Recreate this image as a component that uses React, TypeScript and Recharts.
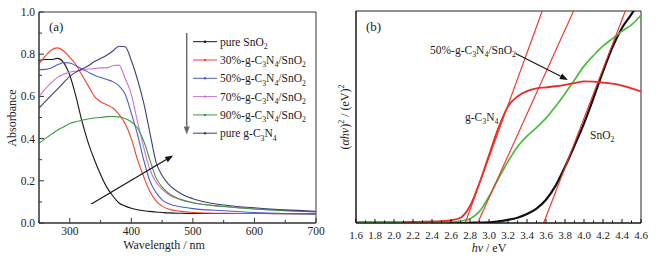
import React from "react";
import { LineChart, Line, XAxis, YAxis, ReferenceLine, ReferenceArea } from "recharts";

const SERIF = "'Liberation Serif', 'Times New Roman', serif";
const AXIS = "#333";
const INK = "#222";

// ---- panel (a): UV-vis absorbance ----
const wavelengths = [250, 260, 270, 280, 290, 300, 310, 320, 330, 340, 350, 360, 370, 380, 390, 400, 410, 420, 430, 440, 450, 460, 480, 500, 550, 600, 650, 700];
const pureSnO2 = [0.77, 0.775, 0.775, 0.78, 0.76, 0.7, 0.6, 0.48, 0.38, 0.3, 0.23, 0.17, 0.128, 0.095, 0.08, 0.07, 0.063, 0.058, 0.055, 0.052, 0.05, 0.048, 0.046, 0.045, 0.045, 0.045, 0.044, 0.044];
const cn30 = [0.755, 0.79, 0.82, 0.83, 0.815, 0.785, 0.75, 0.7, 0.65, 0.6, 0.575, 0.56, 0.545, 0.515, 0.47, 0.4, 0.3, 0.22, 0.15, 0.105, 0.08, 0.066, 0.055, 0.05, 0.046, 0.045, 0.044, 0.044];
const cn50 = [0.727, 0.728, 0.735, 0.75, 0.76, 0.758, 0.745, 0.73, 0.715, 0.7, 0.69, 0.68, 0.67, 0.65, 0.61, 0.52, 0.42, 0.3, 0.2, 0.145, 0.11, 0.092, 0.077, 0.068, 0.058, 0.05, 0.045, 0.042];
const cn70 = [0.6, 0.635, 0.665, 0.69, 0.705, 0.715, 0.72, 0.725, 0.73, 0.732, 0.735, 0.735, 0.745, 0.748, 0.685, 0.61, 0.48, 0.36, 0.255, 0.195, 0.16, 0.135, 0.11, 0.095, 0.078, 0.066, 0.058, 0.052];
const cn90 = [0.378, 0.4, 0.42, 0.44, 0.455, 0.472, 0.48, 0.487, 0.493, 0.498, 0.5, 0.504, 0.505, 0.503, 0.495, 0.48, 0.45, 0.39, 0.3, 0.215, 0.17, 0.142, 0.112, 0.097, 0.078, 0.066, 0.058, 0.053];
const pureCN = [0.545, 0.575, 0.605, 0.635, 0.665, 0.695, 0.715, 0.73, 0.745, 0.765, 0.78, 0.795, 0.815, 0.838, 0.835, 0.77, 0.68, 0.57, 0.43, 0.29, 0.225, 0.185, 0.14, 0.115, 0.085, 0.072, 0.062, 0.056];

const absSeries = [
  { key: "sno2", name: "pure SnO_2", color: "#151515", values: pureSnO2 },
  { key: "c30", name: "30%-g-C_3N_4/SnO_2", color: "#f4432c", values: cn30 },
  { key: "c50", name: "50%-g-C_3N_4/SnO_2", color: "#4a5ec6", values: cn50 },
  { key: "c70", name: "70%-g-C_3N_4/SnO_2", color: "#cc74cc", values: cn70 },
  { key: "c90", name: "90%-g-C_3N_4/SnO_2", color: "#3f9a3f", values: cn90 },
  { key: "cn", name: "pure g-C_3N_4", color: "#3f3d7c", values: pureCN },
];

const wlTicks = [250, 300, 350, 400, 450, 500, 550, 600, 650, 700];
const absTicks = [0, 0.1, 0.2, 0.3, 0.4, 0.5, 0.6, 0.7, 0.8, 0.9, 1.0];
const trendArrow = [{ x: 335, y: 0.09 }, { x: 468, y: 0.32 }];
const orderArrow = [{ x: 490, y: 0.9 }, { x: 490, y: 0.42 }];

// ---- panel (b): Tauc plot ----
const hv = [1.6, 1.7, 1.8, 1.9, 2.0, 2.1, 2.2, 2.3, 2.4, 2.5, 2.6, 2.7, 2.8, 2.9, 3.0, 3.1, 3.2, 3.3, 3.4, 3.5, 3.6, 3.7, 3.8, 3.9, 4.0, 4.1, 4.2, 4.3, 4.4, 4.5, 4.6];
const taucSnO2 = [0, 0, 0, 0, 0, 0, 0, 0, 0, 0, 0, 0, 0.001, 0.002, 0.003, 0.008, 0.015, 0.025, 0.042, 0.068, 0.11, 0.175, 0.265, 0.365, 0.47, 0.59, 0.715, 0.83, 0.92, 0.985, 1.06];
const taucCN50 = [0.005, 0.005, 0.005, 0.005, 0.005, 0.005, 0.005, 0.005, 0.005, 0.005, 0.006, 0.009, 0.02, 0.055, 0.125, 0.21, 0.29, 0.36, 0.41, 0.45, 0.495, 0.55, 0.61, 0.675, 0.74, 0.79, 0.835, 0.87, 0.905, 0.935, 0.98];
const taucCN = [null, null, null, null, null, 0.004, 0.005, 0.006, 0.007, 0.009, 0.013, 0.025, 0.08, 0.19, 0.32, 0.45, 0.55, 0.597, 0.622, 0.635, 0.64, 0.645, 0.652, 0.66, 0.668, 0.667, 0.662, 0.657, 0.648, 0.635, 0.62];

const taucSeries = [
  { key: "sno2", color: "#111111", width: 2.2, values: taucSnO2 },
  { key: "cn50", color: "#4cbb3c", width: 1.7, values: taucCN50 },
  { key: "cn", color: "#ee2a24", width: 1.8, values: taucCN },
];

// linear fits (x-intercept -> top of frame)
const tangents = [
  [{ x: 2.75, y: 0 }, { x: 3.56, y: 1 }],
  [{ x: 2.88, y: 0 }, { x: 3.89, y: 1 }],
  [{ x: 3.575, y: 0 }, { x: 4.435, y: 1 }],
];
const hvTicks = [1.6, 1.7, 1.8, 1.9, 2.0, 2.1, 2.2, 2.3, 2.4, 2.5, 2.6, 2.7, 2.8, 2.9, 3.0, 3.1, 3.2, 3.3, 3.4, 3.5, 3.6, 3.7, 3.8, 3.9, 4.0, 4.1, 4.2, 4.3, 4.4, 4.5, 4.6];
const pointerArrow = [{ x: 3.28, y: 0.8 }, { x: 3.83, y: 0.675 }];

const absRows = wavelengths.map((wl, i) => {
  const row: any = { wl };
  absSeries.forEach((s) => (row[s.key] = s.values[i]));
  return row;
});
const taucRows = hv.map((x, i) => {
  const row: any = { hv: x };
  taucSeries.forEach((s) => (row[s.key] = s.values[i]));
  return row;
});

// "_x" -> subscript, "^x" -> superscript
function rich(s: string, size: number) {
  const parts: React.ReactNode[] = [];
  const re = /([_^])(.)|([^_^]+)/g;
  let m: RegExpExecArray | null;
  let off = 0;
  let k = 0;
  while ((m = re.exec(s))) {
    if (m[3]) {
      parts.push(<tspan key={k++} dy={-off} fontSize={size}>{m[3]}</tspan>);
      off = 0;
    } else {
      const target = m[1] === "_" ? size * 0.3 : -size * 0.4;
      parts.push(<tspan key={k++} dy={target - off} fontSize={size * 0.68}>{m[2]}</tspan>);
      off = target;
    }
  }
  return parts;
}

const TICK_OFF = 8; // tickSize 6 + tickMargin 2

function XTickA({ x, y, payload }: any) {
  const v = payload.value;
  const major = v % 100 === 0;
  const y0 = y - TICK_OFF;
  return (
    <g>
      <line x1={x} x2={x} y1={y0} y2={y0 - (major ? 5 : 3)} stroke={AXIS} />
      {major && (
        <text x={x} y={y0 + 12} textAnchor="middle" fontSize={11.5} fontFamily={SERIF} fill={INK}>
          {v}
        </text>
      )}
    </g>
  );
}

function YTickA({ x, y, payload }: any) {
  const v = payload.value;
  const major = Math.round(v * 10) % 2 === 0;
  const x0 = x + TICK_OFF;
  return (
    <g>
      <line x1={x0} x2={x0 + (major ? 5 : 3)} y1={y} y2={y} stroke={AXIS} />
      {major && (
        <text x={x0 - 4} y={y} dy="0.35em" textAnchor="end" fontSize={11.5} fontFamily={SERIF} fill={INK}>
          {v.toFixed(1)}
        </text>
      )}
    </g>
  );
}

function XTickB({ x, y, payload }: any) {
  const v = payload.value;
  const major = Math.round(v * 10) % 2 === 0;
  const y0 = y - TICK_OFF;
  return (
    <g>
      <line x1={x} x2={x} y1={y0} y2={y0 - (major ? 4 : 2.5)} stroke="#111" />
      {major && (
        <text x={x} y={y0 + 16} textAnchor="middle" fontSize={11} fontFamily={SERIF} fill={INK}>
          {v.toFixed(1)}
        </text>
      )}
    </g>
  );
}

function Arrow({ x1, y1, x2, y2, color, w = 1.2 }: any) {
  const a = Math.atan2(y2 - y1, x2 - x1);
  const L = 8;
  const W = 3;
  const bx = x2 - L * Math.cos(a);
  const by = y2 - L * Math.sin(a);
  const px = -Math.sin(a) * W;
  const py = Math.cos(a) * W;
  return (
    <g>
      <line x1={x1} y1={y1} x2={bx} y2={by} stroke={color} strokeWidth={w} />
      <polygon points={`${x2},${y2} ${bx + px},${by + py} ${bx - px},${by - py}`} fill={color} />
    </g>
  );
}

function PanelA() {
  return (
    <LineChart width={330} height={258} data={absRows} margin={{ top: 12, right: 14, bottom: 0, left: 0 }}>
      <XAxis
        dataKey="wl"
        type="number"
        domain={[250, 700]}
        ticks={wlTicks}
        interval={0}
        tick={(p: any) => <XTickA {...p} />}
        tickLine={false}
        tickSize={6}
        tickMargin={2}
        axisLine={{ stroke: AXIS }}
        height={35}
      />
      <YAxis
        type="number"
        domain={[0, 1]}
        ticks={absTicks}
        interval={0}
        tick={(p: any) => <YTickA {...p} />}
        tickLine={false}
        tickSize={6}
        tickMargin={2}
        axisLine={{ stroke: AXIS }}
        width={39}
      />
      <ReferenceArea x1={250} x2={700} y1={0} y2={1} fill="none" fillOpacity={0} stroke={AXIS} strokeWidth={1} />
      {absSeries.map((s) => (
        <Line
          key={s.key}
          dataKey={s.key}
          type="monotone"
          stroke={s.color}
          strokeWidth={1.1}
          dot={false}
          isAnimationActive={false}
        />
      ))}
      <ReferenceLine segment={trendArrow} shape={(p: any) => <Arrow {...p} color="#111" w={1.2} />} />
      <ReferenceLine segment={orderArrow} shape={(p: any) => <Arrow {...p} color="#666" w={1.4} />} />
    </LineChart>
  );
}

function PanelB() {
  return (
    <LineChart width={329} height={258} data={taucRows} margin={{ top: 11, right: 18, bottom: 0, left: 0 }}>
      <XAxis
        dataKey="hv"
        type="number"
        domain={[1.6, 4.6]}
        ticks={hvTicks}
        interval={0}
        tick={(p: any) => <XTickB {...p} />}
        tickLine={false}
        tickSize={6}
        tickMargin={2}
        axisLine={{ stroke: "#111", strokeWidth: 1.2 }}
        height={35}
      />
      <YAxis type="number" domain={[0, 1]} tick={false} tickLine={false} axisLine={{ stroke: "#111" }} width={26} allowDataOverflow />
      <ReferenceArea x1={1.6} x2={4.6} y1={0} y2={1} fill="none" fillOpacity={0} stroke="#222" strokeWidth={1} />
      {taucSeries.map((s) => (
        <Line
          key={s.key}
          dataKey={s.key}
          type="monotone"
          stroke={s.color}
          strokeWidth={s.width}
          dot={false}
          isAnimationActive={false}
        />
      ))}
      {tangents.map((seg, i) => (
        <ReferenceLine key={i} segment={seg} stroke="#f0302a" strokeWidth={1.1} />
      ))}
      <ReferenceLine segment={pointerArrow} shape={(p: any) => <Arrow {...p} color="#111" w={1.1} />} />
    </LineChart>
  );
}

export default function App() {
  const txt = { fontFamily: SERIF, fill: INK };
  return (
    <div style={{ position: "fixed", left: 0, top: 0, width: 659, height: 258, background: "#fff" }}>
      <div style={{ position: "absolute", left: 0, top: 0 }}>
        <PanelA />
      </div>
      <div style={{ position: "absolute", left: 330, top: 0 }}>
        <PanelB />
      </div>
      <svg width={659} height={258} style={{ position: "absolute", left: 0, top: 0, pointerEvents: "none" }}>
        {/* panel (a) labels */}
        <text x={49} y={31} fontSize={13} {...txt}>(a)</text>
        {absSeries.map((s, i) => {
          const cy = 41.7 + i * 18.3;
          return (
            <g key={s.key}>
              <line x1={193} x2={217} y1={cy} y2={cy} stroke={s.color} strokeWidth={1} />
              <circle cx={205} cy={cy} r={1.2} fill={s.color} />
              <text x={220} y={cy + 4} {...txt}>{rich(s.name, 11.5)}</text>
            </g>
          );
        })}
        <text transform="translate(12,118) rotate(-90)" textAnchor="middle" dy={4} fontSize={12} {...txt}>
          Absorbance
        </text>
        <text x={164} y={249} textAnchor="middle" fontSize={12} {...txt}>Wavelength / nm</text>

        {/* panel (b) labels */}
        <text x={366} y={31} fontSize={13} {...txt}>(b)</text>
        <text x={430} y={54} {...txt}>{rich("50%-g-C_3N_4/SnO_2", 11.5)}</text>
        <text x={465} y={121} {...txt}>{rich("g-C_3N_4", 11.5)}</text>
        <text x={590} y={139} {...txt}>{rich("SnO_2", 11.5)}</text>
        <text transform="translate(345,117) rotate(-90)" textAnchor="middle" dy={4} fontSize={12} {...txt}>
          <tspan>(</tspan>
          <tspan fontStyle="italic">αhν</tspan>
          <tspan>)</tspan>
          <tspan dy={-5} fontSize={8}>2</tspan>
          <tspan dy={5}> / (eV)</tspan>
          <tspan dy={-5} fontSize={8}>2</tspan>
        </text>
        <text x={489} y={252} textAnchor="middle" fontSize={12} {...txt}>
          <tspan fontStyle="italic">hν</tspan> / eV
        </text>
      </svg>
    </div>
  );
}
